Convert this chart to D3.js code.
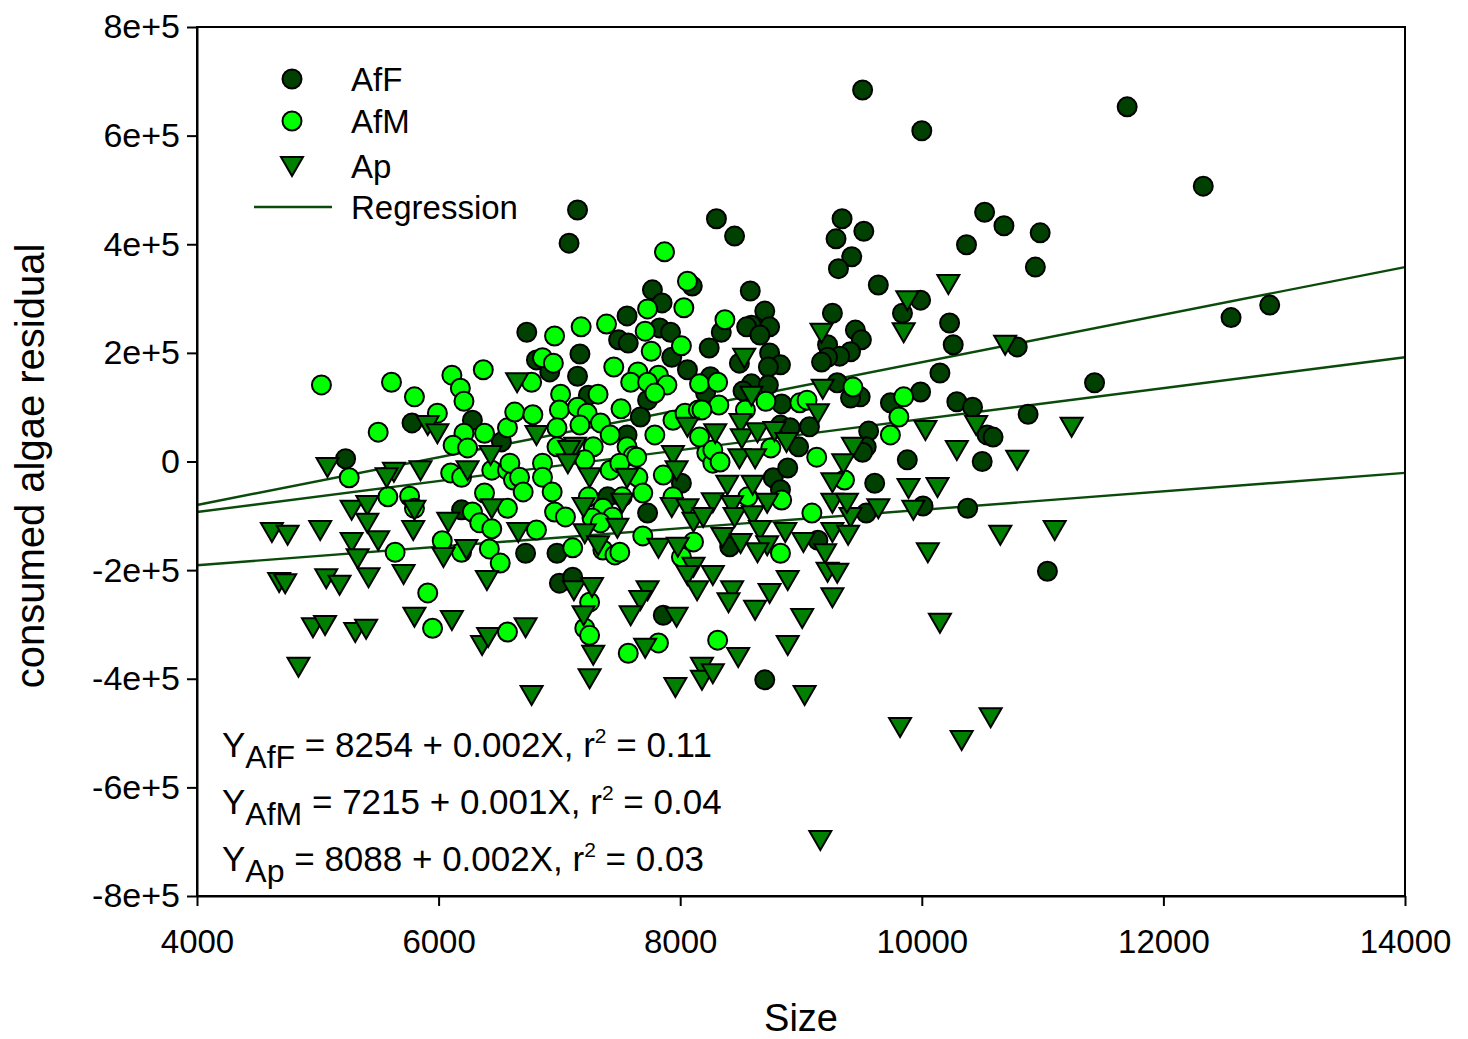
<!DOCTYPE html>
<html>
<head>
<meta charset="utf-8">
<script src="https://cdn.jsdelivr.net/npm/d3@7"></script>
<style>
  html, body { margin: 0; padding: 0; background: #fff; }
  svg { display: block; font-family: "Liberation Sans", Arial, sans-serif; }
</style>
</head>
<body>
<svg id="chart" width="1468" height="1039"></svg>
<script>
// ---- data (Size, consumed algae residual) ----
const afF = [[9510,684000],[11700,653000],[10000,609000],[12330,507000],[7150,463000],[7080,402000],[8300,447000],[8450,415000],[10520,459000],[10680,434000],[10980,421000],[9340,447000],[9290,410000],[9520,424000],[9420,377000],[9310,355000],[10370,399000],[10940,358000],[8580,314000],[9640,325000],[7770,316000],[8100,323000],[12560,265000],[12880,288000],[11430,145000],[9990,297000],[9840,273000],[10230,255000],[10260,215000],[10790,211000],[10150,163000],[9990,128000],[10290,110000],[10420,100000],[10880,87000],[10540,49000],[10590,45000],[9880,3000],[10500,0],[10010,-82000],[10380,-86000],[11040,-202000],[8700,277000],[9260,273000],[8340,238000],[8590,251000],[8550,248000],[8740,248000],[8660,233000],[9450,242000],[9500,224000],[9220,215000],[9410,202000],[9320,194000],[9220,192000],[9170,183000],[8240,209000],[8490,181000],[8740,200000],[8830,178000],[8730,174000],[8590,143000],[8730,141000],[9300,145000],[9490,119000],[9410,117000],[8250,156000],[8210,126000],[8520,130000],[8840,106000],[9070,64000],[9740,108000],[9560,56000],[9540,27000],[8830,67000],[8910,62000],[8980,27000],[7850,292000],[7560,268000],[6730,238000],[7830,246000],[7920,238000],[7490,224000],[7570,218000],[7930,192000],[7170,198000],[6810,187000],[6920,165000],[7150,157000],[8060,169000],[7730,113000],[7240,122000],[7670,82000],[7560,49000],[6520,36000],[6720,-169000],[6980,-169000],[7400,-65000],[7730,-95000],[8010,-40000],[7000,-224000],[7110,-213000],[7860,-283000],[9510,17000],[8770,-30000],[8890,-12000],[8830,-52000],[9540,-95000],[9610,-40000],[8410,-157000],[9140,-145000],[8700,-402000],[5780,71000],[6280,76000],[5230,5000],[6190,-89000]];

const afM = [[5030,141000],[5610,146000],[5800,119000],[6110,159000],[6180,135000],[6210,111000],[6370,169000],[5500,54000],[5990,89000],[6210,52000],[6380,52000],[6570,62000],[6120,30000],[6240,25000],[5260,-30000],[6100,-21000],[6190,-29000],[6440,-16000],[6570,-16000],[6620,-34000],[5580,-65000],[5760,-64000],[6380,-58000],[5800,-86000],[6280,-93000],[6340,-113000],[6570,-86000],[6440,-124000],[5640,-167000],[6030,-146000],[6190,-167000],[6420,-161000],[6510,-187000],[5910,-242000],[5950,-307000],[6570,-314000],[7870,386000],[8060,332000],[7730,281000],[8030,283000],[7390,253000],[7180,248000],[6960,231000],[7710,240000],[7760,203000],[8010,213000],[6860,191000],[6950,181000],[7450,174000],[7650,165000],[7820,159000],[7590,146000],[7730,146000],[6770,146000],[8160,143000],[7890,141000],[7790,126000],[7010,124000],[7320,124000],[6630,91000],[6780,86000],[7000,95000],[7150,100000],[7230,89000],[7510,97000],[7940,76000],[8040,89000],[8150,95000],[6980,62000],[7170,67000],[7340,71000],[7420,49000],[6980,27000],[7280,27000],[7560,27000],[7610,10000],[7790,49000],[6860,-3000],[6590,-3000],[8220,16000],[8270,-3000],[8370,261000],[8310,146000],[8320,104000],[8710,111000],[8990,108000],[9050,113000],[8540,95000],[9430,137000],[9850,119000],[9810,82000],[9740,49000],[9130,8000],[8180,95000],[8160,45000],[8270,21000],[8750,25000],[8330,-1000],[6670,-29000],[6860,-29000],[6940,-56000],[6700,-56000],[6960,-93000],[7050,-102000],[6810,-126000],[7110,-159000],[7210,3000],[7240,-65000],[7360,-86000],[7270,-104000],[7360,-163000],[7460,-172000],[7500,-167000],[7420,-16000],[7500,-3000],[7640,8000],[7650,-29000],[7690,-58000],[7520,-65000],[7440,-102000],[7340,-113000],[7860,-25000],[7940,-65000],[7690,-137000],[8010,-176000],[8110,-148000],[7250,-259000],[7210,-307000],[7250,-320000],[7570,-353000],[7820,-334000],[8310,-329000],[9360,-34000],[8560,-65000],[8840,-71000],[9090,-95000],[8830,-169000]];

const ap = [[10220,327000],[9880,297000],[9850,238000],[10690,215000],[10030,58000],[10450,67000],[11240,64000],[10290,21000],[10790,3000],[9890,-49000],[10130,-47000],[9930,-89000],[10650,-135000],[11100,-126000],[10050,-167000],[10150,-297000],[10570,-471000],[10330,-513000],[9820,-489000],[9160,-697000],[9030,-430000],[9170,237000],[8530,191000],[9180,134000],[8590,121000],[9140,89000],[9430,27000],[9350,-3000],[8290,52000],[8500,71000],[8510,43000],[8640,54000],[8780,56000],[8880,36000],[8490,6000],[8620,6000],[6650,146000],[8060,64000],[6810,49000],[7130,27000],[7940,12000],[7080,21000],[7070,-3000],[6660,-130000],[7250,-29000],[7200,-84000],[7210,-132000],[7320,-154000],[7560,-30000],[7520,-76000],[7480,-122000],[7970,-16000],[7930,-84000],[8060,-86000],[8110,-111000],[7820,-159000],[7980,-157000],[8110,-194000],[8060,-209000],[8140,-237000],[8270,-209000],[7120,-237000],[7270,-231000],[7200,-283000],[7280,-356000],[7250,-399000],[6770,-430000],[6720,-305000],[7730,-237000],[7670,-255000],[7590,-283000],[7970,-286000],[7710,-343000],[7960,-415000],[8180,-378000],[8180,-402000],[8270,-390000],[8390,-43000],[8600,-43000],[8270,-75000],[8430,-80000],[8720,-76000],[8190,-102000],[8450,-102000],[8600,-99000],[9640,-86000],[9260,-76000],[9260,-38000],[9410,-102000],[9380,-76000],[8350,-139000],[8500,-150000],[8660,-126000],[8720,-154000],[8640,-167000],[8870,-130000],[9020,-148000],[9260,-130000],[9390,-135000],[9200,-169000],[9220,-203000],[9300,-205000],[8430,-237000],[8400,-259000],[8620,-273000],[8740,-242000],[8890,-218000],[9260,-250000],[9010,-288000],[8890,-338000],[8480,-360000],[6430,12000],[5910,67000],[5990,52000],[5080,-10000],[5630,-19000],[5850,-16000],[5570,-29000],[6240,-16000],[5800,-89000],[5280,-89000],[5410,-80000],[6080,-111000],[6440,-86000],[4620,-130000],[4750,-135000],[5020,-126000],[5280,-148000],[5410,-113000],[5500,-145000],[5790,-126000],[5330,-178000],[6040,-176000],[6230,-161000],[5420,-213000],[5710,-207000],[4680,-222000],[4730,-224000],[5070,-215000],[5180,-227000],[6400,-218000],[5800,-286000],[6110,-292000],[4960,-305000],[5060,-301000],[5310,-314000],[5400,-308000],[6360,-338000],[6410,-323000],[4840,-378000]];

// regression lines (endpoints at the x-range limits)
const regAfF = [[4000,-80000],[14000,358000]];
const regAfM = [[4000,-93000],[14000,192000]];
const regAp  = [[4000,-191000],[14000,-21000]];

const xTicks = [4000,6000,8000,10000,12000,14000];
const yTicks = [-800000,-600000,-400000,-200000,0,200000,400000,600000,800000];

const seriesNames = ["AfF","AfM","Ap"];
const equations = [
  {sub:"AfF", body:" = 8254 + 0.002X, r", tail:" = 0.11"},
  {sub:"AfM", body:" = 7215 + 0.001X, r", tail:" = 0.04"},
  {sub:"Ap",  body:" = 8088 + 0.002X, r", tail:" = 0.03"}
];

// ---- layout ----
const L = 197, R = 1405, T = 27, B = 896;
const colAfF = "#004000", colAfM = "#00ff00", colAp = "#008000", colLine = "#0a4a0a";

const svg = d3.select("#chart");
const x = d3.scaleLinear().domain([4000,14000]).range([L,R]);
const y = d3.scaleLinear().domain([-800000,800000]).range([B,T]);

// regression lines
const lineGen = d3.line().x(d=>x(d[0])).y(d=>y(d[1]));
svg.append("g").selectAll("path").data([regAfF,regAfM,regAp]).join("path")
  .attr("d", lineGen).attr("fill","none").attr("stroke",colLine).attr("stroke-width",2.4);

const tri = "M-11,-9L11,-9L0,10Z";

// points
const gp = svg.append("g").attr("stroke","#000").attr("stroke-width",2);
gp.append("g").selectAll("circle").data(afF).join("circle")
  .attr("cx",d=>x(d[0])).attr("cy",d=>y(d[1])).attr("r",9.5).attr("fill",colAfF);
gp.append("g").selectAll("circle").data(afM).join("circle")
  .attr("cx",d=>x(d[0])).attr("cy",d=>y(d[1])).attr("r",9.5).attr("fill",colAfM);
gp.append("g").selectAll("path").data(ap).join("path")
  .attr("d",tri).attr("transform",d=>`translate(${x(d[0])},${y(d[1])})`).attr("fill",colAp);

// frame
svg.append("rect").attr("x",L).attr("y",T).attr("width",R-L).attr("height",B-T)
  .attr("fill","none").attr("stroke","#000").attr("stroke-width",2);

// axes
const fmtY = d => d === 0 ? "0" : (d/1e5) + "e+5";
const ax = svg.append("g").attr("transform",`translate(0,${B})`)
  .call(d3.axisBottom(x).tickValues(xTicks).tickFormat(d3.format("d")).tickSize(10).tickSizeOuter(0).tickPadding(24));
const ay = svg.append("g").attr("transform",`translate(${L},0)`)
  .call(d3.axisLeft(y).tickValues(yTicks).tickFormat(fmtY).tickSize(10).tickSizeOuter(0).tickPadding(7));
[ax,ay].forEach(g=>{
  g.selectAll("path.domain").attr("stroke","#000").attr("stroke-width",2);
  g.selectAll(".tick line").attr("stroke","#000").attr("stroke-width",2);
  g.selectAll(".tick text").attr("fill","#000").style("font-family","'Liberation Sans', Arial, sans-serif");
});
ax.selectAll(".tick text").style("font-size","33px");
ay.selectAll(".tick text").style("font-size","34px");

// axis titles
svg.append("text").attr("x",801).attr("y",1031).attr("text-anchor","middle")
  .style("font-size","38px").text("Size");
svg.append("text").attr("transform","translate(44,466) rotate(-90)").attr("text-anchor","middle")
  .style("font-size","40px").text("consumed algae residual");

// legend
const lg = svg.append("g");
const legY = [79,121,166,207];
lg.append("circle").attr("cx",292).attr("cy",legY[0]).attr("r",9.5).attr("fill",colAfF).attr("stroke","#000").attr("stroke-width",2);
lg.append("circle").attr("cx",292).attr("cy",legY[1]).attr("r",9.5).attr("fill",colAfM).attr("stroke","#000").attr("stroke-width",2);
lg.append("path").attr("d",tri).attr("transform",`translate(292,${legY[2]})`).attr("fill",colAp).attr("stroke","#000").attr("stroke-width",2);
lg.append("line").attr("x1",254).attr("x2",332).attr("y1",legY[3]).attr("y2",legY[3]).attr("stroke",colLine).attr("stroke-width",2.4);
const legLabels = seriesNames.concat(["Regression"]);
lg.selectAll("text").data(legLabels).join("text")
  .attr("x",351).attr("y",(d,i)=>legY[i]).attr("dy","0.36em")
  .style("font-size","33px").text(d=>d);

// equations
const eqBase = [757,814,871];
equations.forEach((e,i)=>{
  const t = svg.append("text").attr("x",222).attr("y",eqBase[i]).style("font-size","35px");
  t.append("tspan").text("Y");
  t.append("tspan").attr("dy",11).style("font-size","32px").text(e.sub);
  t.append("tspan").attr("dy",-11).text(e.body);
  t.append("tspan").attr("dy",-14).style("font-size","21px").text("2");
  t.append("tspan").attr("dy",14).text(e.tail);
});
</script>
</body>
</html>
